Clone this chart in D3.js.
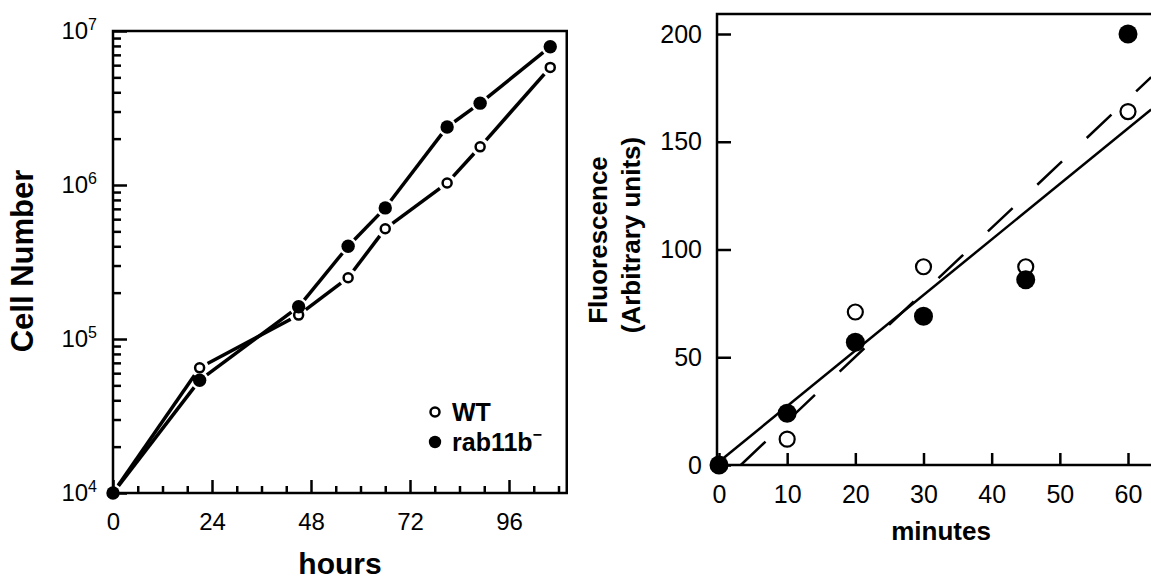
<!DOCTYPE html>
<html>
<head>
<meta charset="utf-8">
<script src="https://cdn.jsdelivr.net/npm/d3@7"></script>
<style>
  body { margin: 0; background: #fff; }
  svg { font-family: "Liberation Sans", Arial, sans-serif; }
</style>
</head>
<body>
<div id="canvas"></div>
<script>
// growth curve (left panel)
var hours = [0, 21, 45, 57, 66, 81, 89, 106];
var wtCells = [1e4, 6.5e4, 1.43e5, 2.5e5, 5.2e5, 1.03e6, 1.77e6, 5.8e6];
var rabCells = [1e4, 5.4e4, 1.62e5, 4.0e5, 7.1e5, 2.38e6, 3.4e6, 7.9e6];
var hourTicks = [0, 24, 48, 72, 96];
var decadeTicks = [1e4, 1e5, 1e6, 1e7];

// uptake (right panel)
var minutes = [0, 10, 20, 30, 45, 60];
var wtFluor = [0, 12, 71, 92, 92, 164];
var rabFluor = [0, 24, 57, 69, 86, 200];
var wtFit = [[0, 1.5], [63.4, 165]];
var rabFit = [[3.2, 0], [63.4, 180]];
var minuteTicks = [0, 10, 20, 30, 40, 50, 60];
var fluorTicks = [0, 50, 100, 150, 200];

var svg = d3.select("#canvas").append("svg")
  .attr("width", 1151)
  .attr("height", 581);

svg.append("rect").attr("width", 1151).attr("height", 581).attr("fill", "#fff");

// ---------- left panel ----------
var x1 = d3.scaleLinear().domain([0, 110]).range([113, 566.75]);
var y1 = d3.scaleLog().domain([1e4, 1e7]).range([493, 31]);

var left = svg.append("g");

// frame
left.append("rect")
  .attr("x", 113).attr("y", 31)
  .attr("width", 566.75 - 113).attr("height", 493 - 31)
  .attr("fill", "none").attr("stroke", "#000").attr("stroke-width", 2.5);

// minor y ticks
var minorY = [];
decadeTicks.slice(0, 3).forEach(function (d) {
  for (var k = 2; k <= 9; k++) minorY.push(d * k);
});
left.append("g")
  .attr("transform", "translate(113,0)")
  .call(d3.axisLeft(y1).tickValues(minorY).tickSize(-8).tickSizeOuter(0).tickFormat(""))
  .call(function (g) { g.select(".domain").remove(); })
  .selectAll("line").attr("stroke-width", 2.5);

// major y ticks with 10^n labels
var yAx = left.append("g")
  .attr("transform", "translate(113,0)")
  .call(d3.axisLeft(y1).tickValues(decadeTicks).tickSize(-14).tickSizeOuter(0).tickPadding(16));
yAx.select(".domain").remove();
yAx.selectAll("line").attr("stroke-width", 2.5);
yAx.selectAll("text")
  .attr("font-size", 24)
  .attr("font-family", "Liberation Sans, Arial, sans-serif")
  .attr("fill", "#000")
  .each(function (d) {
    var t = d3.select(this).text("10");
    t.append("tspan")
      .attr("font-size", 16)
      .attr("dy", "-0.55em")
      .text(Math.round(Math.log10(d)));
  });

// x ticks
var minorX = d3.range(0, 110, 6).filter(function (d) { return d % 24 !== 0; });
left.append("g")
  .attr("transform", "translate(0,493)")
  .call(d3.axisBottom(x1).tickValues(minorX).tickSize(-7).tickSizeOuter(0).tickFormat(""))
  .call(function (g) { g.select(".domain").remove(); })
  .selectAll("line").attr("stroke-width", 2.5);

var xAx = left.append("g")
  .attr("transform", "translate(0,493)")
  .call(d3.axisBottom(x1).tickValues(hourTicks).tickSize(-13).tickSizeOuter(0).tickPadding(20));
xAx.select(".domain").remove();
xAx.selectAll("line").attr("stroke-width", 2.5);
xAx.selectAll("text")
  .attr("font-size", 24)
  .attr("font-family", "Liberation Sans, Arial, sans-serif")
  .attr("fill", "#000");

// connecting lines with gaps at the markers
function gappedSegments(g, xs, ys, xScale, yScale, gap, width) {
  for (var i = 0; i < xs.length - 1; i++) {
    var ax = xScale(xs[i]), ay = yScale(ys[i]);
    var bx = xScale(xs[i + 1]), by = yScale(ys[i + 1]);
    var dx = bx - ax, dy = by - ay, len = Math.sqrt(dx * dx + dy * dy);
    if (len <= 2 * gap) continue;
    g.append("line")
      .attr("x1", ax + dx / len * gap).attr("y1", ay + dy / len * gap)
      .attr("x2", bx - dx / len * gap).attr("y2", by - dy / len * gap)
      .attr("stroke", "#000").attr("stroke-width", width)
      .attr("stroke-linecap", "butt");
  }
}
gappedSegments(left, hours, wtCells, x1, y1, 9, 3.5);
gappedSegments(left, hours, rabCells, x1, y1, 9, 3.5);

left.selectAll("circle.wt")
  .data(hours.map(function (h, i) { return [h, wtCells[i]]; }))
  .enter().append("circle")
  .attr("class", "wt")
  .attr("cx", function (d) { return x1(d[0]); })
  .attr("cy", function (d) { return y1(d[1]); })
  .attr("r", 4.5)
  .attr("fill", "#fff").attr("stroke", "#000").attr("stroke-width", 2.5);

left.selectAll("circle.rab")
  .data(hours.map(function (h, i) { return [h, rabCells[i]]; }))
  .enter().append("circle")
  .attr("class", "rab")
  .attr("cx", function (d) { return x1(d[0]); })
  .attr("cy", function (d) { return y1(d[1]); })
  .attr("r", 6.7)
  .attr("fill", "#000");

// legend
left.append("circle").attr("cx", 435).attr("cy", 412).attr("r", 4.5)
  .attr("fill", "#fff").attr("stroke", "#000").attr("stroke-width", 2.5);
left.append("text").attr("x", 452).attr("y", 421)
  .attr("font-size", 25).attr("font-weight", "bold").text("WT");
left.append("circle").attr("cx", 435).attr("cy", 442).attr("r", 6.2).attr("fill", "#000");
var rabLab = left.append("text").attr("x", 452).attr("y", 451)
  .attr("font-size", 25).attr("font-weight", "bold").text("rab11b");
rabLab.append("tspan").attr("font-size", 16).attr("dy", "-0.7em").text("\u2212");

// titles
left.append("text")
  .attr("transform", "translate(33,261) rotate(-90)")
  .attr("text-anchor", "middle")
  .attr("font-size", 31).attr("font-weight", "bold")
  .text("Cell Number");
left.append("text")
  .attr("x", 340).attr("y", 574)
  .attr("text-anchor", "middle")
  .attr("font-size", 30).attr("font-weight", "bold")
  .text("hours");

// ---------- right panel ----------
var x2 = d3.scaleLinear().domain([0, 60]).range([719, 1128]);
var y2 = d3.scaleLinear().domain([0, 200]).range([465, 34]);

var right = svg.append("g");

// axes lines (left side, top, bottom; right side is cut off)
right.append("path")
  .attr("d", "M1151,14H717V465H1151")
  .attr("fill", "none").attr("stroke", "#000").attr("stroke-width", 2.5);

var yAx2 = right.append("g")
  .attr("transform", "translate(717,0)")
  .call(d3.axisLeft(y2).tickValues(fluorTicks).tickSize(-14).tickSizeOuter(0).tickPadding(15));
yAx2.select(".domain").remove();
yAx2.selectAll("line").attr("stroke-width", 2.5);
yAx2.selectAll("text")
  .attr("font-size", 25)
  .attr("font-family", "Liberation Sans, Arial, sans-serif")
  .attr("fill", "#000");

var xAx2 = right.append("g")
  .attr("transform", "translate(0,465)")
  .call(d3.axisBottom(x2).tickValues(minuteTicks).tickSize(-12).tickSizeOuter(0).tickPadding(20));
xAx2.select(".domain").remove();
xAx2.selectAll("line").attr("stroke-width", 2.5);
xAx2.selectAll("text")
  .attr("font-size", 25)
  .attr("font-family", "Liberation Sans, Arial, sans-serif")
  .attr("fill", "#000");

// fit lines
var fitLine = d3.line().x(function (d) { return x2(d[0]); }).y(function (d) { return y2(d[1]); });
right.append("path").attr("d", fitLine(wtFit))
  .attr("fill", "none").attr("stroke", "#000").attr("stroke-width", 2.5);
right.append("path").attr("d", fitLine(rabFit))
  .attr("fill", "none").attr("stroke", "#000").attr("stroke-width", 2.5)
  .attr("stroke-dasharray", "34,34");

right.selectAll("circle.wt")
  .data(minutes.map(function (m, i) { return [m, wtFluor[i]]; }))
  .enter().append("circle")
  .attr("class", "wt")
  .attr("cx", function (d) { return x2(d[0]); })
  .attr("cy", function (d) { return y2(d[1]); })
  .attr("r", 7.5)
  .attr("fill", "#fff").attr("stroke", "#000").attr("stroke-width", 2.2);

right.selectAll("circle.rab")
  .data(minutes.map(function (m, i) { return [m, rabFluor[i]]; }))
  .enter().append("circle")
  .attr("class", "rab")
  .attr("cx", function (d) { return x2(d[0]); })
  .attr("cy", function (d) { return y2(d[1]); })
  .attr("r", 9.5)
  .attr("fill", "#000");

right.append("text")
  .attr("transform", "translate(607,240) rotate(-90)")
  .attr("text-anchor", "middle")
  .attr("font-size", 26).attr("font-weight", "bold")
  .text("Fluorescence");
right.append("text")
  .attr("transform", "translate(640,235) rotate(-90)")
  .attr("text-anchor", "middle")
  .attr("font-size", 26).attr("font-weight", "bold")
  .text("(Arbitrary units)");
right.append("text")
  .attr("x", 941).attr("y", 540)
  .attr("text-anchor", "middle")
  .attr("font-size", 26).attr("font-weight", "bold")
  .text("minutes");
</script>
</body>
</html>
